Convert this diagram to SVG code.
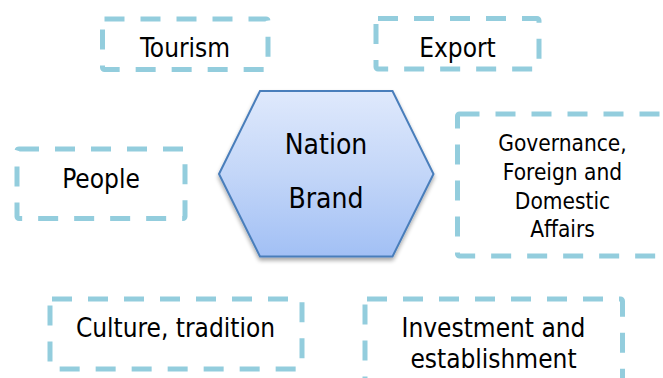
<svg xmlns="http://www.w3.org/2000/svg" width="663" height="378" viewBox="0 0 663 378">
  <style>
    .box { fill: none; stroke: #93cddd; stroke-width: 5; stroke-dasharray: 20 16; stroke-linejoin: round; }
    .lbl { font-family: "DejaVu Sans Condensed", "Liberation Sans", sans-serif; font-size: 26px; fill: #000; text-anchor: middle; }
    .sm { font-size: 22.5px; }
    .hub { font-size: 28px; }
  </style>
  <defs>
    <linearGradient id="hexFill" x1="0" y1="0" x2="0" y2="1">
      <stop offset="0" stop-color="#dfe9fc"/>
      <stop offset="0.5" stop-color="#c3d6f8"/>
      <stop offset="1" stop-color="#a2c0f5"/>
    </linearGradient>
    <filter id="shadow" x="-10%" y="-10%" width="120%" height="130%">
      <feGaussianBlur in="SourceAlpha" stdDeviation="2"/>
      <feOffset dx="0" dy="3" result="b"/>
      <feComponentTransfer><feFuncA type="linear" slope="0.35"/></feComponentTransfer>
      <feMerge><feMergeNode/><feMergeNode in="SourceGraphic"/></feMerge>
    </filter>
  </defs>
  <rect width="663" height="378" fill="#ffffff"/>
  <g id="connectors"/>
  <g id="nation-brand">
    <polygon points="219,174 260,91 392.5,91 433.5,174 392.5,256.5 260,256.5" fill="url(#hexFill)" stroke="#4a7ebb" stroke-width="2" filter="url(#shadow)"/>
    <text class="lbl hub" x="326" y="154">Nation</text>
    <text class="lbl hub" x="326" y="207.5">Brand</text>
  </g>
  <g id="tourism">
    <rect class="box" x="102.5" y="19" width="165.5" height="50.5" rx="2"/>
    <text class="lbl" x="185" y="56.5">Tourism</text>
  </g>
  <g id="export">
    <rect class="box" x="376" y="18.5" width="163" height="50.5" rx="2"/>
    <text class="lbl" x="457.5" y="56.5">Export</text>
  </g>
  <g id="people">
    <rect class="box" x="17" y="149" width="168" height="69.5" rx="2"/>
    <text class="lbl" x="101" y="188.3">People</text>
  </g>
  <g id="governance">
    <rect class="box" x="457.5" y="114" width="210" height="142" rx="2"/>
    <text class="lbl sm" x="562.5" y="151">Governance,</text>
    <text class="lbl sm" x="562.5" y="180">Foreign and</text>
    <text class="lbl sm" x="562.5" y="208.5">Domestic</text>
    <text class="lbl sm" x="562.5" y="237.3">Affairs</text>
  </g>
  <g id="culture">
    <rect class="box" x="50" y="299" width="252" height="70" rx="2"/>
    <text class="lbl" x="175.5" y="336.7">Culture, tradition</text>
  </g>
  <g id="investment">
    <rect class="box" x="365" y="299" width="257.5" height="100" rx="2"/>
    <text class="lbl" x="493.5" y="336.7">Investment and</text>
    <text class="lbl" x="493.5" y="367.7">establishment</text>
  </g>
</svg>
